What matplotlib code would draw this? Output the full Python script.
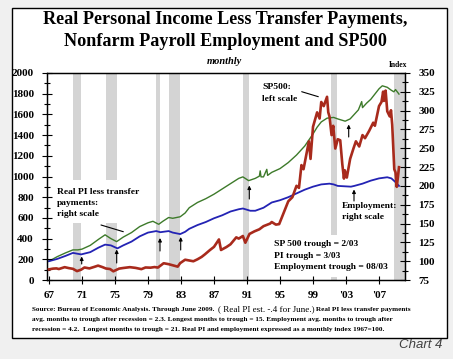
import matplotlib
matplotlib.use("Agg")
import matplotlib.pyplot as plt
from matplotlib.patches import Rectangle, FancyArrowPatch
from matplotlib.ticker import MultipleLocator

# ---------------- data ----------------
sp_years = [1967.0, 1967.5, 1967.9, 1968.2, 1968.9, 1969.4, 1969.9, 1970.4, 1970.9, 1971.3,
            1971.9, 1972.5, 1972.95, 1973.5, 1973.9, 1974.4, 1974.8, 1975.5, 1976.0, 1976.8,
            1977.5, 1978.2, 1978.7, 1979.3, 1979.8, 1980.2, 1980.9, 1981.5, 1982.6, 1982.9,
            1983.5, 1984.5, 1985.0, 1985.5, 1985.9, 1986.5, 1987.0, 1987.6, 1987.85, 1988.5,
            1989.0, 1989.7, 1990.0, 1990.5, 1990.8, 1991.3, 1991.9, 1992.5, 1993.0, 1993.8,
            1994.0, 1994.5, 1994.9, 1995.5, 1996.0, 1996.5, 1997.0, 1997.3, 1997.6, 1997.85,
            1998.5, 1998.7, 1999.0, 1999.5, 1999.8, 2000.0, 2000.3, 2000.7, 2000.85, 2001.0,
            2001.25, 2001.45, 2001.7, 2002.0, 2002.3, 2002.55, 2002.75, 2002.85, 2003.1, 2003.5,
            2003.9, 2004.2, 2004.6, 2005.0, 2005.3, 2005.8, 2006.3, 2006.5, 2007.0, 2007.3,
            2007.5, 2007.6, 2007.8, 2008.0, 2008.3, 2008.45, 2008.6, 2008.85, 2009.0, 2009.15,
            2009.3, 2009.42]
sp_vals = [103, 110, 112, 106, 124, 115, 108, 86, 100, 121,
           112, 127, 139, 124, 111, 106, 84, 110, 116, 124,
           117, 105, 121, 119, 125, 120, 162, 153, 129, 163,
           196, 181, 200, 223, 248, 289, 320, 392, 290, 318,
           345, 412, 400, 425, 360, 445, 470, 490, 520, 545,
           560, 535, 540, 660, 760, 800, 910, 890, 1110, 1070,
           1340, 1170, 1480, 1620, 1560, 1720, 1680, 1770, 1620, 1580,
           1400, 1490, 1270, 1360, 1350, 1120, 980, 1060, 990, 1170,
           1270, 1340, 1290, 1400, 1370, 1440, 1520, 1490, 1680, 1720,
           1820, 1730, 1830, 1630, 1580, 1640, 1500, 1070, 1040, 900,
           1000, 1090]

pi_years = [1967.0, 1968.0, 1969.0, 1969.9, 1970.5, 1971.0, 1972.0, 1973.0, 1973.8, 1974.5,
            1975.2, 1976.0, 1977.0, 1978.0, 1979.0, 1979.6, 1980.3, 1980.8, 1981.5, 1982.0,
            1982.9, 1983.5, 1984.0, 1985.0, 1986.0, 1987.0, 1988.0, 1989.0, 1990.0, 1990.5,
            1991.2, 1992.0, 1992.5, 1992.6, 1992.7, 1993.0, 1993.4, 1993.5, 1994.0, 1995.0,
            1996.0, 1997.0, 1998.0, 1998.5, 1999.0, 1999.5, 2000.0, 2000.7, 2001.5, 2002.0,
            2002.9, 2003.5, 2004.0, 2004.5, 2004.9, 2005.0, 2005.5, 2006.0, 2006.5, 2007.0,
            2007.4, 2008.0, 2008.5, 2008.8, 2009.0, 2009.42]
pi_vals = [100, 106, 111, 115, 115, 116, 121, 129, 135, 130,
           126, 132, 138, 146, 151, 153, 149, 153, 158, 157,
           159, 164, 171, 178, 183, 189, 196, 203, 210, 212,
           207, 210, 213, 220, 212, 212, 222, 214, 218, 223,
           231, 241, 253, 261, 269, 278, 285, 290, 291, 289,
           286, 289, 295, 301, 312, 304, 310, 315, 322, 329,
           333, 331, 327, 325, 328, 322]

emp_years = [1967.0, 1968.0, 1969.0, 1969.9, 1970.9, 1972.0, 1973.0, 1973.8, 1974.5, 1975.3,
             1976.0, 1977.0, 1978.0, 1979.0, 1980.0, 1980.5, 1981.5, 1982.0, 1982.9, 1983.5,
             1984.0, 1985.0, 1986.0, 1987.0, 1988.0, 1989.0, 1990.0, 1990.5, 1991.4, 1992.0,
             1993.0, 1994.0, 1995.0, 1996.0, 1997.0, 1998.0, 1999.0, 2000.0, 2001.0, 2001.5,
             2002.0, 2003.6, 2004.0, 2005.0, 2006.0, 2007.0, 2008.0, 2008.5, 2009.0, 2009.42]
emp_vals = [100, 103, 107, 111, 109, 112, 118, 122, 121, 117,
            121, 126, 133, 138, 140, 138.5, 140, 138, 136, 139,
            143, 148, 152, 157, 161, 166, 169, 170, 167, 167,
            171, 178, 181, 185, 190, 195, 199, 202, 203, 202,
            200, 199, 200, 203, 207, 210, 211.5, 210, 205, 200]

recessions = [(1969.9, 1970.9), (1973.9, 1975.2), (1980.0, 1980.5), (1981.5, 1982.9),
              (1990.5, 1991.2), (2001.2, 2001.85), (2008.8, 2010.2)]

xticks = [1967, 1971, 1975, 1979, 1983, 1987, 1991, 1995, 1999, 2003, 2007]
xticklabels = ["67", "71", "75", "79", "83", "87", "91", "95", "99", "'03", "'07"]

# ---------------- figure ----------------
W, H = 453, 359
fig = plt.figure(figsize=(W / 100, H / 100), dpi=100, facecolor="#f0f0f0")
SERIF = "Liberation Serif"

def fx(x):
    return x / W

def fy(y):
    return 1 - y / H

# outer frame
fig.patches.append(Rectangle((fx(12), fy(338)), fx(447) - fx(12), fy(8) - fy(338),
                             transform=fig.transFigure, facecolor="white",
                             edgecolor="black", lw=1.0, zorder=-5))

L, R, T, B = 47, 405, 73, 280
axr = fig.add_axes([fx(L), fy(B), fx(R) - fx(L), fy(T) - fy(B)])
axl = axr.twinx()
axr.yaxis.tick_right()
axl.yaxis.tick_left()
axr.set_facecolor("none")
axl.set_facecolor("none")

xmin, xmax = 1966.76, 2010.15
axr.set_xlim(xmin, xmax)
axr.set_ylim(75, 350)
axl.set_ylim(0, 2000)

# recession bands
for a, b in recessions:
    axr.axvspan(a, min(b, xmax), color="#d4d4d4", lw=0, zorder=0)

# white boxes behind labels (interrupting bands)
def pixbox(x0, y0, x1, y1):
    axr.add_patch(Rectangle(((x0 - L) / (R - L), (B - y1) / (B - T)),
                            (x1 - x0) / (R - L), (y1 - y0) / (B - T),
                            transform=axr.transAxes, facecolor="white",
                            edgecolor="none", zorder=0.5))

pixbox(52, 180, 140, 223)
pixbox(268, 235, 392, 277)

axr.plot(pi_years, pi_vals, color="#3d7a2a", lw=1.0, zorder=2)
axr.plot(emp_years, emp_vals, color="#2323b4", lw=1.3, zorder=2)
axl.plot(sp_years, sp_vals, color="#a82a1c", lw=1.9, zorder=3)

# ticks
tick_font = dict(family=SERIF, weight="bold", size=8)
axr.set_xticks(xticks)
axr.set_xticklabels(xticklabels, **tick_font)
axr.tick_params(axis="x", direction="inout", length=6, width=0.8, pad=5)
axl.tick_params(axis="x", which="both", bottom=False, top=False, labelbottom=False)

axl.yaxis.set_major_locator(MultipleLocator(200))
axl.yaxis.set_minor_locator(MultipleLocator(100))
axl.tick_params(axis="y", which="major", direction="inout", length=7, width=0.8, pad=6)
axl.tick_params(axis="y", which="minor", direction="inout", length=4, width=0.8)
for lab in axl.get_yticklabels():
    lab.set_fontproperties(SERIF)
    lab.set_fontweight("bold")
    lab.set_fontsize(8)

axr.yaxis.set_major_locator(MultipleLocator(25))
axr.yaxis.set_minor_locator(MultipleLocator(12.5))
axr.tick_params(axis="y", which="major", direction="inout", length=7, width=0.8, pad=6)
axr.tick_params(axis="y", which="minor", direction="inout", length=4, width=0.8)
for lab in axr.get_yticklabels():
    lab.set_fontproperties(SERIF)
    lab.set_fontweight("bold")
    lab.set_fontsize(8)

for a in (axr, axl):
    for s in a.spines.values():
        s.set_linewidth(0.9)
        s.set_color("black")

# ---------------- titles ----------------
title_kw = dict(family=SERIF, weight="bold", size=13.1, ha="center", va="center")
fig.text(fx(225), fy(20), "Real Personal Income Less Transfer Payments,", **title_kw)
fig.text(fx(225), fy(41), "Nonfarm Payroll Employment and SP500", **title_kw)
fig.text(fx(224), fy(61), "monthly", family=SERIF, weight="bold", style="italic",
         size=7.5, ha="center", va="center")
fig.text(fx(398), fy(65), "Index", family=SERIF, weight="bold", size=5.5,
         ha="center", va="center")

# ---------------- labels ----------------
lab_kw = dict(family=SERIF, weight="bold", size=6.8, ha="left", va="center", zorder=5)
def ptext(x, y, s):
    fig.text(fx(x), fy(y), s, **lab_kw)

ptext(262, 87, "SP500:")
ptext(262, 99, "left scale")
ptext(57, 192, "Real PI less transfer")
ptext(57, 203, "payments:")
ptext(57, 213.5, "right scale")
ptext(342, 206, "Employment:")
ptext(342, 216.7, "right scale")
ptext(274, 244.3, "SP 500 trough = 2/03")
ptext(274, 255.5, "PI trough = 3/03")
ptext(274, 267, "Employment trough = 08/03")

def pline(x0, y0, x1, y1, arrow=False):
    props = dict(arrowstyle="-|>" if arrow else "-", color="black", lw=0.8,
                 shrinkA=0, shrinkB=0)
    if arrow:
        props["mutation_scale"] = 5
    fig.add_artist(FancyArrowPatch((x0, H - y0), (x1, H - y1), transform=None,
                                   zorder=6, **props))

pline(301.7, 91.7, 318.3, 96.7)
pline(101, 225, 123.3, 231.7)
# trough arrows
pline(81.7, 264, 81.7, 256.5, True)
pline(116.7, 263, 116.7, 249.5, True)
pline(160, 251, 160, 238, True)
pline(180.7, 250, 180.7, 237, True)
pline(249.3, 199, 249.3, 185.5, True)
pline(348.7, 137, 348.7, 124.5, True)
pline(354, 201, 354, 189.5, True)

# ---------------- source note ----------------
src_kw = dict(family=SERIF, weight="bold", size=5.2, ha="left", va="center")
fig.canvas.draw()
rend = fig.canvas.get_renderer()
t1 = fig.text(fx(31.7), fy(309.3), "Source: Bureau of Economic Analysis. Through June 2009.  ", **src_kw)
bb = t1.get_window_extent(rend)
t2 = fig.text(bb.x1 / W, fy(309.3), "( Real PI est. -.4 for June.)", family=SERIF,
              size=6.6, ha="left", va="center")
bb2 = t2.get_window_extent(rend)
fig.text(bb2.x1 / W, fy(309.3), " Real PI less transfer payments", **src_kw)
fig.text(fx(31.7), fy(319.7),
         "avg. months to trough after recession = 2.3. Longest months to trough = 15. "
         "Employment avg. months to trough after", **src_kw)
fig.text(fx(31.7), fy(329.3),
         "recession = 4.2.  Longest months to trough = 21. Real PI and employment "
         "expressed as a monthly index 1967=100.", **src_kw)

fig.text(fx(442), fy(345), "Chart 4", family="Liberation Sans", style="italic",
         size=9.5, color="#404040", ha="right", va="center")

fig.savefig("out.png", dpi=100, facecolor=fig.get_facecolor())
